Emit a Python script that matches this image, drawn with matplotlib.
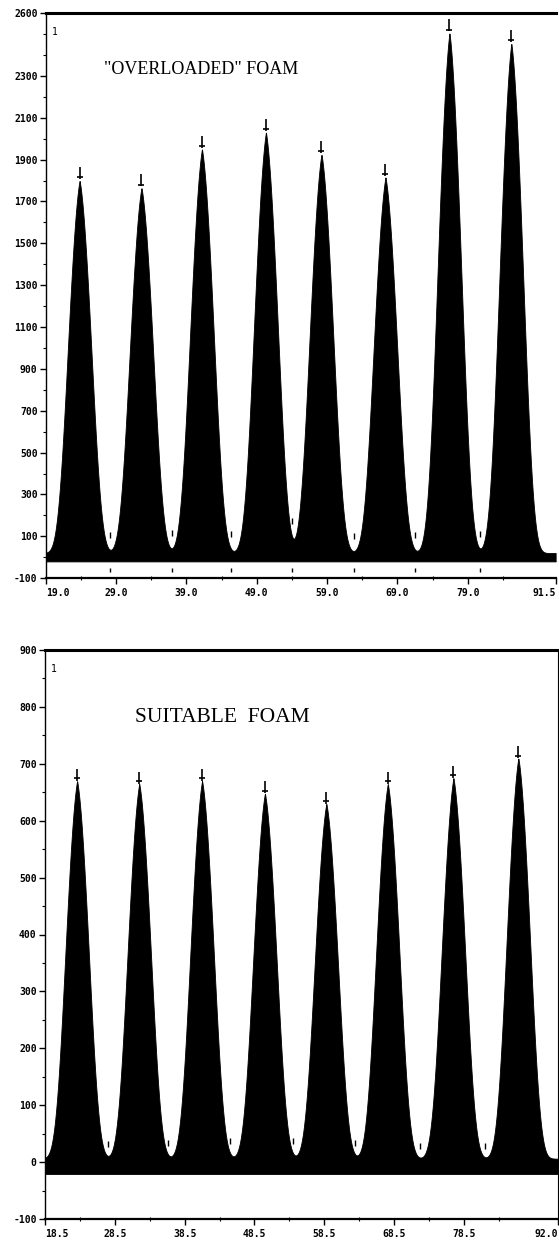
import matplotlib.pyplot as plt
import numpy as np

# "OVERLOADED" FOAM trace (top panel)
top_peak_x = [23.8, 32.6, 41.2, 50.3, 58.2, 67.3, 76.4, 85.2]
top_peak_h = [1800, 1765, 1950, 2030, 1925, 1815, 2505, 2455]
top_valley_x = [28.1, 37.0, 45.3, 54.0, 62.8, 71.5, 80.8]
top_base = 20
top_fill_floor = -20
top_yticks = [2600, 2300, 2100, 1900, 1700, 1500, 1300, 1100, 900, 700, 500, 300, 100, -100]
top_xlabels = ['19.0', '29.0', '39.0', '49.0', '59.0', '69.0', '79.0', '91.5']

# SUITABLE FOAM trace (bottom panel)
bot_peak_x = [23.1, 32.0, 41.0, 50.0, 58.8, 67.6, 77.0, 86.3]
bot_peak_h = [670, 665, 670, 648, 630, 665, 675, 710]
bot_valley_x = [27.5, 36.1, 45.0, 54.0, 62.9, 72.2, 81.5]
bot_base = 6
bot_fill_floor = -21
bot_yticks = [900, 800, 700, 600, 500, 400, 300, 200, 100, 0, -100]
bot_xlabels = ['18.5', '28.5', '38.5', '48.5', '58.5', '68.5', '78.5', '92.0']

# peak profile coefficients (|d|, d^2, d^4 terms)
shape = (0.10, 0.14, 0.006)

tick_font = dict(family='DejaVu Sans Mono', weight='bold', size=7)


def trace(x, centers, heights, base):
    x = np.asarray(x, float)
    y = np.full_like(x, float(base))
    a, b, c = shape
    for cx, h in zip(centers, heights):
        d = np.abs(x - cx)
        y += (h - base) * np.exp(-a * d - b * d ** 2 - c * d ** 4)
    return y


def draw_panel(ax, xlim, ylim, centers, heights, valleys, base, floor,
               yticks, xlabels, title, title_pos, title_size, tip, vmark,
               below_marks, right_spine):
    x = np.linspace(xlim[0], xlim[1], 3000)
    y = trace(x, centers, heights, base)
    ax.fill_between(x, floor, y, color='black', lw=0.6, edgecolor='black')

    # peak markers
    peak_tops = trace(centers, centers, heights, base)
    ax.plot(centers, peak_tops + tip * 0.6, ls='none', marker='|', ms=9, mew=1.2, color='black')
    ax.plot(centers, peak_tops + tip * 0.25, ls='none', marker='_', ms=5, mew=1.2, color='black')
    # valley markers
    vy = trace(valleys, centers, heights, base)
    ax.plot(valleys, vy + vmark, ls='none', marker='|', ms=5, mew=1.0, color='black')
    if below_marks is not None:
        ax.plot(valleys, [below_marks] * len(valleys), ls='none', marker='|', ms=3, mew=1.0, color='black')

    ax.set_xlim(*xlim)
    ax.set_ylim(*ylim)

    ax.spines['top'].set_linewidth(2.2)
    ax.spines['bottom'].set_linewidth(1.6)
    ax.spines['left'].set_linewidth(1.0)
    ax.spines['right'].set_visible(right_spine)
    ax.spines['right'].set_linewidth(0.8)

    ax.set_yticks(yticks)
    ax.set_yticklabels([str(v) for v in yticks], **tick_font)
    step = abs(yticks[-2] - yticks[-1]) / 2
    ax.set_yticks(np.arange(ylim[0], ylim[1] + 1, step), minor=True)
    ax.tick_params(axis='y', which='major', direction='out', length=4, width=1, pad=2)
    ax.tick_params(axis='y', which='minor', direction='out', length=2, width=0.8)

    xt = [xlim[0] + 10 * i for i in range(len(xlabels) - 1)] + [xlim[1]]
    ax.set_xticks(xt)
    ax.set_xticklabels(xlabels, **tick_font)
    lbls = ax.get_xticklabels()
    lbls[0].set_ha('left')
    lbls[-1].set_ha('right')
    ax.set_xticks(np.arange(xlim[0] + 5, xlim[1], 10), minor=True)
    ax.tick_params(axis='x', which='major', direction='out', length=4, width=1, pad=3)
    ax.tick_params(axis='x', which='minor', direction='inout', length=3, width=0.8)

    ax.text(0.012, 0.975, '1', transform=ax.transAxes, fontsize=7,
            family='DejaVu Sans Mono', va='top', ha='left')
    ax.text(title_pos[0], title_pos[1], title, transform=ax.transAxes, fontsize=title_size,
            family='Liberation Serif', va='center', ha='left')


fig = plt.figure(figsize=(5.59, 12.46), dpi=100)
ax1 = fig.add_axes([0.082, 0.536, 0.912, 0.4535])
ax2 = fig.add_axes([0.0805, 0.0217, 0.918, 0.4566])

draw_panel(ax1, (19.0, 91.5), (-100, 2600), top_peak_x, top_peak_h, top_valley_x,
           top_base, top_fill_floor, top_yticks, top_xlabels,
           '"OVERLOADED" FOAM', (0.115, 0.9), 13, 60, 70, -60, False)
draw_panel(ax2, (18.5, 92.0), (-100, 900), bot_peak_x, bot_peak_h, bot_valley_x,
           bot_base, bot_fill_floor, bot_yticks, bot_xlabels,
           'SUITABLE  FOAM', (0.175, 0.882), 15.5, 18, 20, None, True)

fig.savefig('out.png', dpi=100)
